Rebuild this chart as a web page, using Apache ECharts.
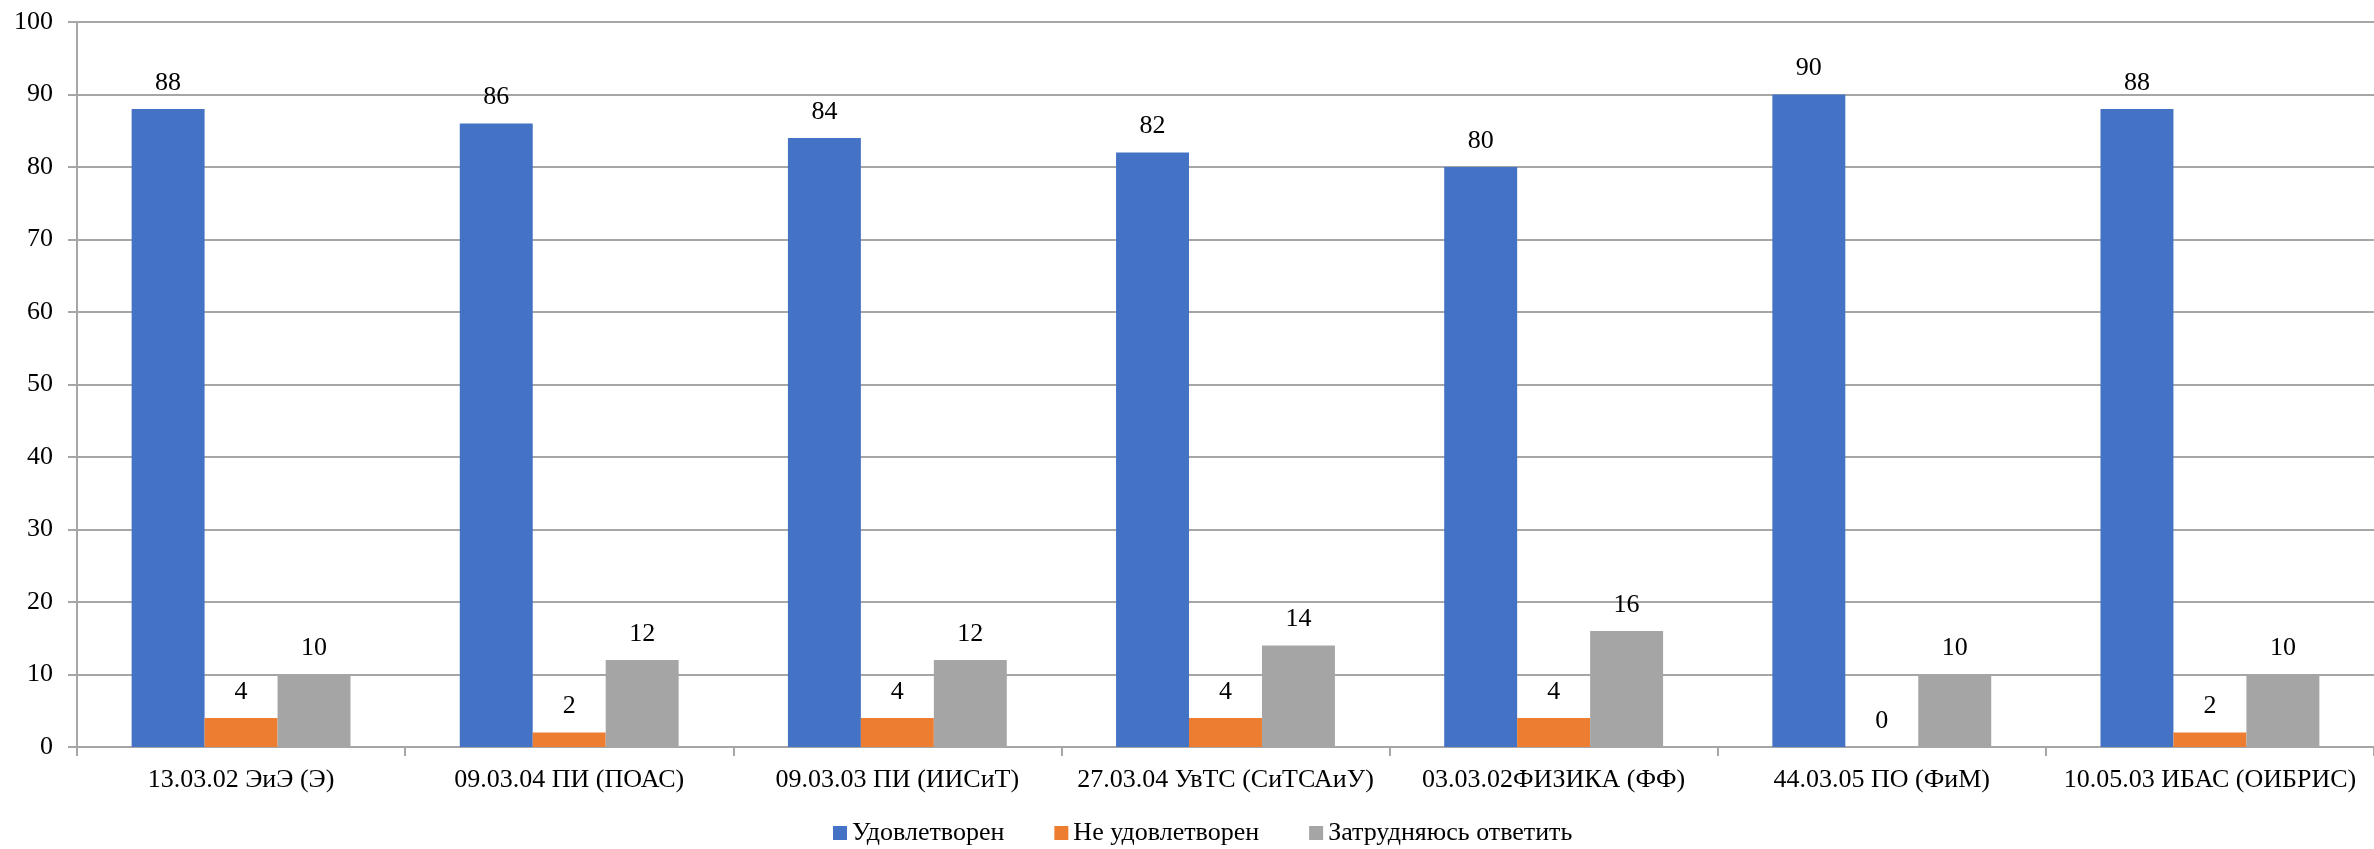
<!DOCTYPE html>
<html>
<head>
<meta charset="utf-8">
<script src="https://cdn.jsdelivr.net/npm/echarts@6/dist/echarts.min.js"></script>
<style>
    html, body { margin: 0; padding: 0; background: #fff; }
    #main { width: 2374px; height: 849px; }
</style>
</head>
<body>
<div id="main"></div>
<script>
    var categories = ['13.03.02 ЭиЭ (Э)', '09.03.04 ПИ (ПОАС)', '09.03.03 ПИ (ИИСиТ)', '27.03.04 УвТС (СиТСАиУ)', '03.03.02ФИЗИКА (ФФ)', '44.03.05 ПО (ФиМ)', '10.05.03 ИБАС (ОИБРИС)'];
    var satisfied = [88, 86, 84, 82, 80, 90, 88];
    var notSatisfied = [4, 2, 4, 4, 4, 0, 2];
    var undecided = [10, 12, 12, 14, 16, 10, 10];

    var font = '"Liberation Serif", "Times New Roman", serif';
    var myChart = echarts.init(document.getElementById('main'));

    function bar(name, data, color) {
        return {
            name: name,
            type: 'bar',
            data: data,
            barGap: '0%',
            barCategoryGap: '33.3%',
            itemStyle: { color: color },
            label: {
                show: true,
                position: 'top',
                distance: 13,
                color: '#000',
                fontFamily: font,
                fontSize: 26
            }
        };
    }

    var option = {
        animation: false,
        grid: { left: 77, right: -12, top: 22, bottom: 102 },
        legend: {
            top: 815,
            left: 828,
            itemWidth: 14,
            itemHeight: 14,
            itemGap: 50,
            icon: 'rect',
            textStyle: { fontFamily: font, fontSize: 26, color: '#000' },
            data: ['Удовлетворен', 'Не удовлетворен', 'Затрудняюсь ответить']
        },
        xAxis: {
            type: 'category',
            data: categories,
            axisLine: { lineStyle: { color: '#a6a6a6', width: 2 } },
            axisTick: { show: true, length: 9, lineStyle: { color: '#a6a6a6', width: 2 } },
            axisLabel: { interval: 0, fontFamily: font, fontSize: 26, color: '#000', margin: 20 }
        },
        yAxis: {
            type: 'value',
            min: 0,
            max: 100,
            interval: 10,
            axisLine: { show: true, lineStyle: { color: '#a6a6a6', width: 2 } },
            axisTick: { show: true, length: 9, lineStyle: { color: '#a6a6a6', width: 2 } },
            splitLine: { lineStyle: { color: '#a6a6a6', width: 2 } },
            axisLabel: { fontFamily: font, fontSize: 26, color: '#000', margin: 24 }
        },
        series: [
            bar('Удовлетворен', satisfied, '#4472c4'),
            bar('Не удовлетворен', notSatisfied, '#ed7d31'),
            bar('Затрудняюсь ответить', undecided, '#a5a5a5')
        ]
    };

    myChart.setOption(option);
</script>
</body>
</html>
